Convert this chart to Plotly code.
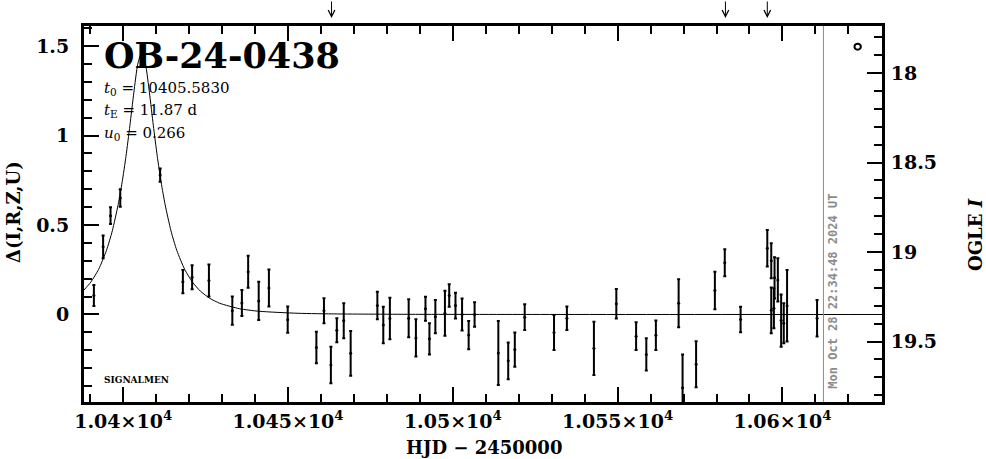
import plotly.graph_objects as go

# ---------------- data ----------------
hjd = [10391.1, 10393.9, 10396.15, 10399.1, 10411.2, 10418.1, 10420.9, 10426.0,
       10433.1, 10436.0, 10437.9, 10441.1, 10444.2, 10449.9, 10458.6, 10460.9,
       10463.0, 10464.8, 10466.9, 10469.0, 10477.1, 10478.9, 10480.9, 10486.6,
       10488.8, 10491.7, 10492.9, 10494.7, 10497.6, 10498.9, 10500.8, 10502.8,
       10504.8, 10506.6, 10513.8, 10516.8, 10518.8, 10521.8, 10530.7, 10534.6,
       10542.8, 10549.6, 10555.6, 10558.7, 10561.6, 10568.5, 10569.7, 10573.8,
       10579.5, 10582.5, 10587.3,
       10595.4, 10596.6, 10597.6, 10598.6, 10596.6, 10597.4, 10599.6, 10600.4,
       10601.4, 10610.5]
delta = [0.106, 0.378, 0.552, 0.651, 0.779, 0.183, 0.208, 0.190,
         0.021, 0.064, 0.239, 0.076, 0.148, -0.029, -0.184, 0.021,
         -0.282, -0.088, -0.035, -0.217, 0.050, -0.059, -0.022, -0.021,
         -0.131, 0.032, -0.136, -0.012, 0.007, 0.106, 0.050, 0.000,
         -0.115, 0.000, -0.215, -0.259, -0.196, -0.015, -0.101, -0.021,
         -0.189, 0.060, -0.121, -0.223, -0.116, 0.063, -0.409, -0.278,
         0.134, 0.289, -0.028,
         0.370, 0.300, 0.205, 0.193, 0.023, 0.035, -0.034, -0.049,
         0.049, -0.021]
err = [0.059, 0.064, 0.047, 0.049, 0.037, 0.065, 0.067, 0.090,
       0.079, 0.073, 0.089, 0.107, 0.104, 0.073, 0.088, 0.070,
       0.102, 0.067, 0.098, 0.125, 0.077, 0.102, 0.116, 0.106,
       0.104, 0.067, 0.087, 0.093, 0.126, 0.063, 0.072, 0.090,
       0.079, 0.068, 0.179, 0.103, 0.096, 0.072, 0.098, 0.065,
       0.149, 0.082, 0.077, 0.090, 0.082, 0.134, 0.186, 0.129,
       0.105, 0.075, 0.071,
       0.102, 0.098, 0.115, 0.121, 0.128, 0.112, 0.146, 0.112,
       0.200, 0.102]

model_t = [10388.0, 10390.15, 10392.53, 10394.90, 10396.68, 10398.46, 10399.65,
           10400.84, 10402.02, 10403.21, 10404.40, 10405.58, 10406.77, 10407.96,
           10409.14, 10410.33, 10411.52, 10412.71, 10414.49, 10416.27, 10418.64,
           10421.01, 10423.39, 10426.36, 10429.32, 10435.26, 10441.19, 10453.06,
           10464.93, 10488.67, 10524.28, 10631.0]
model_d = [0.1348, 0.1805, 0.2522, 0.3571, 0.4669, 0.6135, 0.7369,
           0.8841, 1.0549, 1.2383, 1.3982, 1.4660, 1.3982, 1.2383,
           1.0549, 0.8841, 0.7369, 0.6135, 0.4669, 0.3571, 0.2522,
           0.1805, 0.1309, 0.0894, 0.0624, 0.0323, 0.0180, 0.0067,
           0.0030, 0.0009, 0.0002, 0.0]

arrow_t = [10463.2, 10582.7, 10595.4]
now_t = 10612.44
now_label = "Mon Oct 28 22:34:48 2024 UT"
event_name = "OB-24-0438"
param_lines = ["<i>t</i><sub>0</sub> = 10405.5830",
               "<i>t</i><sub>E</sub> = 11.87 d",
               "<i>u</i><sub>0</sub> = 0.266"]

x_tickvals = [10400, 10450, 10500, 10550, 10600]
x_ticktext = ["1.04×10<sup>4</sup>", "1.045×10<sup>4</sup>", "1.05×10<sup>4</sup>",
              "1.055×10<sup>4</sup>", "1.06×10<sup>4</sup>"]
y_tickvals = [0, 0.5, 1, 1.5]
y_ticktext = ["0", "0.5", "1", "1.5"]
i_tickvals = [18, 18.5, 19, 19.5]
i_ticktext = ["18", "18.5", "19", "19.5"]
I_BASE = 19.349

x_range = [10388.1, 10630.2]
y_range = [-0.489, 1.612]

FONT = "DejaVu Serif"

fig = go.Figure()

fig.add_trace(go.Scatter(x=model_t, y=model_d, mode="lines",
                         line=dict(color="black", width=1, shape="spline", smoothing=0.6),
                         hoverinfo="skip", showlegend=False))

fig.add_trace(go.Scatter(x=hjd, y=delta, mode="markers",
                         marker=dict(color="black", size=3),
                         error_y=dict(type="data", array=err, visible=True,
                                      color="black", thickness=2, width=1.5),
                         showlegend=False))

# invisible trace to activate the magnitude axis
fig.add_trace(go.Scatter(x=[x_range[0]], y=[I_BASE], yaxis="y2", mode="markers",
                         marker=dict(opacity=0), hoverinfo="skip", showlegend=False))

axis_common = dict(showgrid=False, zeroline=False, showline=True, linecolor="black",
                   linewidth=3, ticks="inside", tickcolor="black", tickwidth=2, ticklen=15)

fig.update_layout(
    width=986, height=459,
    margin=dict(l=84, r=104, t=26, b=57),
    plot_bgcolor="white", paper_bgcolor="white",
    font=dict(family=FONT, color="black"),
    xaxis=dict(range=x_range, tickmode="array", tickvals=x_tickvals, ticktext=x_ticktext,
               mirror="ticks",
               tickfont=dict(family=FONT, size=19, weight="bold"),
               minor=dict(tickmode="linear", tick0=10400, dtick=10, ticks="inside",
                          ticklen=8, tickwidth=2, tickcolor="black"),
               **axis_common),
    yaxis=dict(range=y_range, tickmode="array", tickvals=y_tickvals, ticktext=y_ticktext,
               tickfont=dict(family=FONT, size=19, weight="bold"),
               ticklabelstandoff=8,
               minor=dict(tickmode="linear", tick0=0, dtick=0.1, ticks="inside",
                          ticklen=8, tickwidth=2, tickcolor="black"),
               **axis_common),
    yaxis2=dict(overlaying="y", side="right",
                range=[I_BASE - y_range[0], I_BASE - y_range[1]],
                tickmode="array", tickvals=i_tickvals, ticktext=i_ticktext,
                tickfont=dict(family=FONT, size=19, weight="bold"),
                ticklabelstandoff=2,
                minor=dict(tickmode="linear", tick0=18, dtick=0.1, ticks="inside",
                           ticklen=8, tickwidth=2, tickcolor="black"),
                **axis_common),
)

# date line
fig.add_shape(type="line", xref="x", yref="paper", x0=now_t, x1=now_t, y0=0, y1=1,
              line=dict(color="#8c8c8c", width=1))
fig.add_annotation(x=now_t, xref="x", y=0.03, yref="paper", text=now_label,
                   textangle=-90, showarrow=False, xanchor="left", yanchor="bottom",
                   xshift=1, font=dict(family="DejaVu Sans Mono", size=12, color="#8c8c8c",
                                       weight="bold"))

# arrows above plot
for t in arrow_t:
    fig.add_annotation(x=t, xref="x", y=1.021, yref="paper", text="", showarrow=True,
                       ax=0, ay=-19, arrowhead=5, arrowsize=1.3, arrowwidth=1,
                       arrowcolor="black")

# small circle top-right
fig.add_shape(type="circle", xref="paper", yref="paper",
              x0=0.9655, x1=0.9735, y0=0.937, y1=0.953,
              line=dict(color="black", width=2))

# title and parameters
fig.add_annotation(x=0.023, xref="paper", y=1.0 - (55 - 26) / 376, yref="paper",
                   text="<b>" + event_name + "</b>", showarrow=False,
                   xanchor="left", yanchor="middle",
                   font=dict(family=FONT, size=35, color="black"))
for i, line in enumerate(param_lines):
    fig.add_annotation(x=0.023, xref="paper", y=1.0 - (88 + 22.5 * i - 26) / 376,
                       yref="paper", text=line, showarrow=False,
                       xanchor="left", yanchor="middle",
                       font=dict(family=FONT, size=15, color="black"))
fig.add_annotation(x=0.023, xref="paper", y=1.0 - (380 - 26) / 376, yref="paper",
                   text="<b>SIGNALMEN</b>", showarrow=False, xanchor="left",
                   yanchor="middle", font=dict(family=FONT, size=9, color="black"))

# axis titles
fig.add_annotation(x=(484 - 84) / 798, xref="paper", y=-(447 - 402) / 376, yref="paper",
                   text="<b>HJD − 2450000</b>", showarrow=False, xanchor="center",
                   yanchor="middle", font=dict(family=FONT, size=18, color="black"))
fig.add_annotation(x=-(84 - 13) / 798, xref="paper", y=1.0 - (212 - 26) / 376, yref="paper",
                   text="<b>Δ(I,R,Z,U)</b>", textangle=-90, showarrow=False,
                   xanchor="center", yanchor="middle",
                   font=dict(family=FONT, size=18, color="black"))
fig.add_annotation(x=1 + (975 - 882) / 798, xref="paper", y=1.0 - (235 - 26) / 376,
                   yref="paper", text="<b>OGLE <i>I</i></b>", textangle=-90,
                   showarrow=False, xanchor="center", yanchor="middle",
                   font=dict(family=FONT, size=18, color="black"))

fig.write_html("out.html", config={"displayModeBar": False},
               post_script="document.body.style.margin='0';document.body.style.overflow='hidden';")
